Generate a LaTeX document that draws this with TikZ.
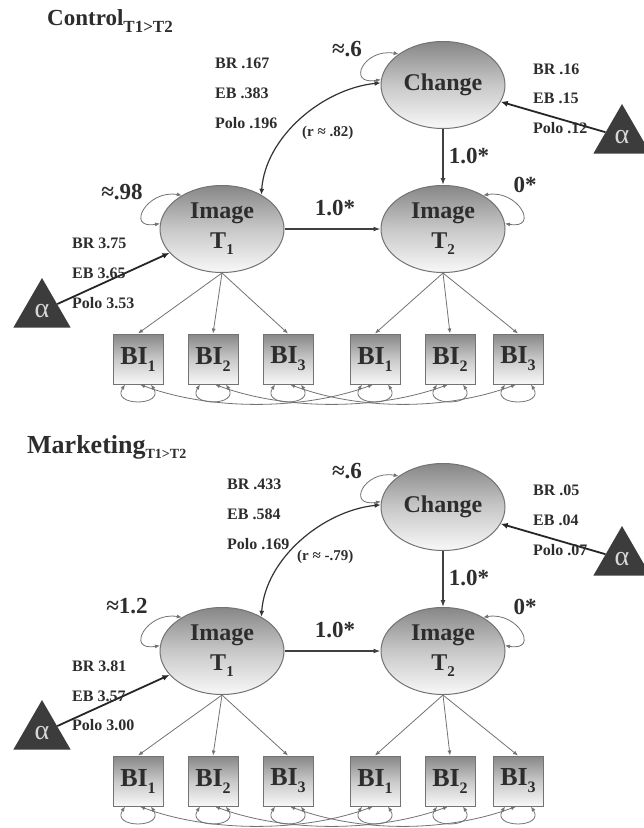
\documentclass[tikz,border=0pt]{standalone}
\usepackage{fontspec}
\setmainfont{Liberation Serif}
\usetikzlibrary{shapes.geometric,arrows.meta}
\definecolor{txt}{RGB}{45,45,45}
\definecolor{edgec}{RGB}{115,115,115}
\definecolor{shtop}{RGB}{135,135,135}
\definecolor{shmid}{RGB}{200,200,200}
\definecolor{shbot}{RGB}{248,248,248}
\definecolor{tric}{RGB}{60,60,60}
\definecolor{alp}{RGB}{215,215,215}
\newcommand\fsz[1]{\fontsize{#1}{#1}\selectfont}
\newcommand\lowsub[3]{\raisebox{-#2pt}{\fsz{#1}#3}}
\tikzset{
  lat/.style={ellipse, draw=edgec, line width=1pt, top color=shtop, bottom color=shbot, middle color=shmid,
    minimum width=124pt, minimum height=87pt, inner sep=0pt,
    font=\bfseries\fontsize{24}{30}\selectfont, text=txt, align=center},
  obs/.style={rectangle, draw=edgec, line width=1pt, top color=shtop, bottom color=shbot, middle color=shmid,
    minimum size=50pt, inner sep=0pt, font=\bfseries\fsz{26}, text=txt},
  alphatri/.style={regular polygon, regular polygon sides=3, fill=tric, draw=none,
    minimum size=66pt, inner sep=0pt, font=\fsz{28}, text=alp},
  lab/.style={anchor=base west, font=\bfseries\fsz{16}, text=txt, inner sep=0pt},
  big/.style={anchor=base, font=\bfseries\fsz{23}, text=txt, inner sep=0pt},
  ttl/.style={anchor=base west, text=txt, inner sep=0pt},
  thinarrow/.style={draw=edgec, line width=0.8pt, -{Latex[length=5pt,width=4pt]}},
  mainarrow/.style={draw=black!75, line width=1.3pt, -{Latex[length=7pt,width=5pt]}},
  heavyarrow/.style={draw=black!85, line width=1.8pt, -{Latex[length=7pt,width=6pt]}},
  dbl/.style={draw=edgec, line width=0.8pt, {Latex[length=5pt,width=4pt]}-{Latex[length=5pt,width=4pt]}},
  dbldark/.style={draw=black!80, line width=1.2pt, {Latex[length=6pt,width=5pt]}-{Latex[length=6pt,width=5pt]}},
}
\newcommand\semstructure{%
  \node[lat] (ch) at (443,85) {Change};
  \node[lat] (t1) at (222,229) {Image\\T\lowsub{15}{6}{1}};
  \node[lat] (t2) at (443,229) {Image\\T\lowsub{15}{6}{2}};
  \node[obs] (b1) at (138,359) {BI\lowsub{16}{7}{1}};
  \node[obs] (b2) at (213,359) {BI\lowsub{16}{7}{2}};
  \node[obs] (b3) at (288,359) {BI\lowsub{16}{7}{3}};
  \node[obs] (b4) at (375,359) {BI\lowsub{16}{7}{1}};
  \node[obs] (b5) at (450,359) {BI\lowsub{16}{7}{2}};
  \node[obs] (b6) at (518,359) {BI\lowsub{16}{7}{3}};
  \node[alphatri] (tr) at (622,137) {\raisebox{-4pt}{α}};
  \node[alphatri] (tl) at (42,311) {\raisebox{-4pt}{α}};
  % loadings
  \draw[thinarrow] (t1.south) -- (b1.north);
  \draw[thinarrow] (t1.south) -- (b2.north);
  \draw[thinarrow] (t1.south) -- (b3.north);
  \draw[thinarrow] (t2.south) -- (b4.north);
  \draw[thinarrow] (t2.south) -- (b5.north);
  \draw[thinarrow] (t2.south) -- (b6.north);
  % structural paths
  \draw[mainarrow] (t1) -- (t2);
  \draw[mainarrow] (ch) -- (t2);
  \draw[heavyarrow] (tr) -- (ch);
  \draw[heavyarrow] (tl) -- (t1);
  \draw[dbldark] (ch.178) .. controls +(-58,6) and +(4,-58) .. (t1.41);
  % variances
  \draw[dbl] (ch.145) .. controls +(-35,-6) and +(-35,6) .. (ch.175);
  \draw[dbl] (t1.140) .. controls +(-35,-6) and +(-35,6) .. (t1.175);
  \draw[dbl] (t2.40) .. controls +(35,-6) and +(35,6) .. (t2.5);
  \foreach \b in {b1,b2,b3,b4,b5,b6}{
    \draw[dbl] ([xshift=-13pt]\b.south) .. controls +(-14,22) and +(14,22) .. ([xshift=13pt]\b.south);
  }
  % correlated errors
  \draw[dbl] ([xshift=2pt]b1.south) .. controls +(70,26) and +(-70,26) .. ([xshift=-2pt]b4.south);
  \draw[dbl] ([xshift=2pt]b2.south) .. controls +(70,26) and +(-70,26) .. ([xshift=-2pt]b5.south);
  \draw[dbl] ([xshift=2pt]b3.south) .. controls +(70,26) and +(-70,26) .. ([xshift=-2pt]b6.south);
}
\begin{document}
\begin{tikzpicture}[x=1pt,y=-1pt]
\useasboundingbox[fill=white] (0,0) rectangle (644,828);
\begin{scope}[name prefix=a-]
  \semstructure
\end{scope}
\begin{scope}[yshift=-422pt, name prefix=b-]
  \semstructure
\end{scope}
% ---- top texts
\node[ttl, font=\bfseries\fsz{23}] (title1) at (47,25) {Control\lowsub{17}{7}{T1>T2}};
\node[big] (tv1) at (347,56) {≈.6};
\node[big] (tv2) at (122,199) {≈.98};
\node[big] (tv3) at (525,192) {0*};
\node[big] (tp1) at (469,163) {1.0*};
\node[big] (tp2) at (335,215) {1.0*};
\node[lab] (tc1) at (215,68) {BR .167};
\node[lab] (tc2) at (215,98) {EB .383};
\node[lab] (tc3) at (215,128) {Polo .196};
\node[lab] (tm1) at (533,74) {BR .16};
\node[lab] (tm2) at (533,103) {EB .15};
\node[lab] (tm3) at (533,133) {Polo .12};
\node[lab] (ti1) at (72,248) {BR 3.75};
\node[lab] (ti2) at (72,278) {EB 3.65};
\node[lab] (ti3) at (72,308) {Polo 3.53};
\node[lab, font=\bfseries\fsz{15}] (tr1) at (302,136) {(r ≈ .82)};
% ---- bottom texts
\node[ttl, font=\bfseries\fsz{26}] (title2) at (27,453) {Marketing\lowsub{14}{5}{T1>T2}};
\node[big] (bv1) at (347,478) {≈.6};
\node[big] (bv2) at (127,613) {≈1.2};
\node[big] (bv3) at (525,614) {0*};
\node[big] (bp1) at (469,585) {1.0*};
\node[big] (bp2) at (335,637) {1.0*};
\node[lab] (bc1) at (227,489) {BR .433};
\node[lab] (bc2) at (227,519) {EB .584};
\node[lab] (bc3) at (227,549) {Polo .169};
\node[lab] (bm1) at (533,495) {BR .05};
\node[lab] (bm2) at (533,525) {EB .04};
\node[lab] (bm3) at (533,555) {Polo .07};
\node[lab] (bi1) at (72,671) {BR 3.81};
\node[lab] (bi2) at (72,701) {EB 3.57};
\node[lab] (bi3) at (72,730) {Polo 3.00};
\node[lab, font=\bfseries\fsz{15}] (br1) at (297,560) {(r ≈ -.79)};
\end{tikzpicture}
\end{document}
